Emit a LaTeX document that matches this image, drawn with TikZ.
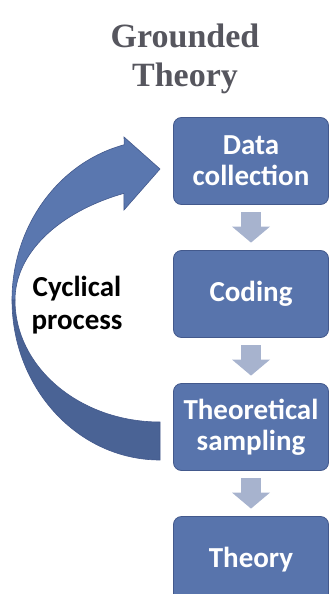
\documentclass[tikz,border=0pt]{standalone}
\usepackage{fontspec}
\setmainfont{Liberation Serif}
\newfontfamily\boxfont{Carlito}
\usetikzlibrary{positioning,arrows.meta}

\definecolor{boxblue}{HTML}{5874AC}
\definecolor{boxline}{HTML}{43598C}
\definecolor{stepgray}{HTML}{A7B3CE}
\definecolor{cyclefront}{HTML}{5A77AF}
\definecolor{cycleback}{HTML}{4A6395}
\definecolor{titlegray}{HTML}{56565E}

\begin{document}
\begin{tikzpicture}[x=1pt, y=1pt, node distance=133pt,
    stagebox/.style={rectangle, rounded corners=8pt, draw=boxline, line width=0.8pt,
        fill=boxblue, text=white, minimum width=155pt, minimum height=87pt, align=center,
        font=\boxfont\bfseries\fontsize{29}{31}\selectfont},
    stepflow/.style={stepgray, line width=20pt,
        -{Triangle[width=38pt, length=16pt, line width=0pt]}},
    cycleshape/.style={draw=boxline, line width=0.6pt}]
    \useasboundingbox (0,0) rectangle (330,-594);

    % Define nodes
    \node [text=titlegray, align=center, font=\bfseries\fontsize{34}{39}\selectfont] (title) at (185,-59) {Grounded\\Theory};
    \node [stagebox] (collection) at (251,-161) {Data\\collection};
    \node [stagebox, below of=collection] (coding) {Coding};
    \node [stagebox, below of=coding] (sampling) {Theoretical\\sampling};
    \node [stagebox, below of=sampling] (theory) {Theory};
    \node [align=center, font=\boxfont\bfseries\fontsize{29}{33}\selectfont] (cyclelabel) at (77,-305) {Cyclical\\process};

    % Draw edges
    \draw [stepflow] ([yshift=-7.5pt]collection.south) -- ([yshift=7.5pt]coding.north);
    \draw [stepflow] ([yshift=-7.5pt]coding.south) -- ([yshift=7.5pt]sampling.north);
    \draw [stepflow] ([yshift=-7.5pt]sampling.south) -- ([yshift=7.5pt]theory.north);

    % Curved arrow back to data collection
    \coordinate (pivot) at (160,-300);
    \filldraw [cycleshape, fill=cycleback] (pivot) ++(180:148pt and 160pt)
        arc [start angle=180, end angle=270, x radius=148pt, y radius=160pt]
        -- ++(0,38) arc [start angle=270, end angle=180, x radius=145pt, y radius=122pt] -- cycle;
    \filldraw [cycleshape, fill=cyclefront] (pivot) ++(104:148pt and 160pt)
        arc [start angle=104, end angle=180, x radius=148pt, y radius=160pt]
        -- ++(3,0) arc [start angle=180, end angle=114.3, x radius=185pt, y radius=117pt]
        -- (124,-210) -- (160,-169) -- (124,-137) -- cycle;
\end{tikzpicture}
\end{document}
